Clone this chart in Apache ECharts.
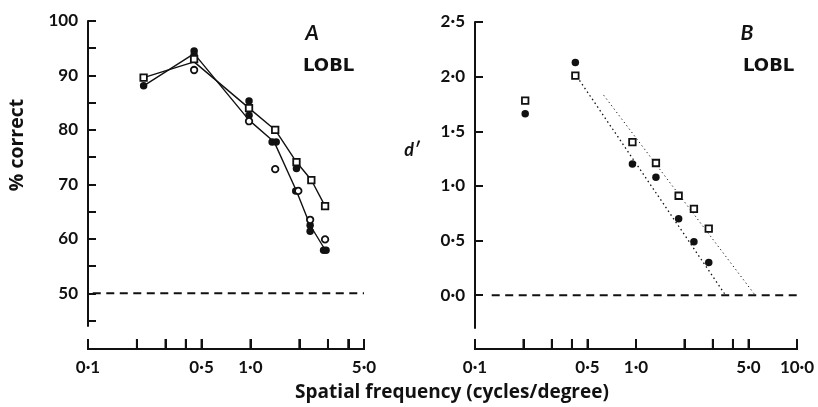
<!DOCTYPE html>
<html>
<head>
<meta charset="utf-8">
<script src="https://cdn.jsdelivr.net/npm/echarts@6/dist/echarts.min.js"></script>
<style>
  html, body { margin: 0; padding: 0; background: #fff; }
  #chart { width: 818px; height: 407px; }
</style>
</head>
<body>
<div id="chart"></div>
<script>
// ---------- Panel A: % correct vs spatial frequency ----------
const filledA = [[0.22, 88.1], [0.45, 94.5], [0.45, 93.7], [0.98, 85.3], [0.98, 82.7],
  [1.36, 77.8], [1.44, 77.8], [1.92, 72.9], [1.90, 68.8], [2.33, 62.5], [2.33, 61.4],
  [2.82, 57.9], [2.92, 57.9]];
const squaresA = [[0.22, 89.6], [0.45, 93.0], [0.98, 84.0], [1.42, 80.0], [1.92, 74.1], [2.37, 70.8], [2.88, 66.0]];
const circlesA = [[0.45, 91.0], [0.98, 81.6], [1.42, 72.8], [1.97, 68.8], [2.33, 63.5], [2.88, 59.9]];
const lineUpperA = [[0.22, 89.6], [0.45, 92.5], [0.98, 84.0], [1.42, 80.0], [1.92, 74.1], [2.37, 70.8], [2.88, 66.0]];
const lineLowerA = [[0.22, 88.1], [0.45, 94.0], [0.98, 81.8], [1.40, 77.8], [1.92, 68.8], [2.33, 62.5], [2.88, 58.0]];
const chanceA = [[0.107, 50], [5, 50]];

// ---------- Panel B: d' vs spatial frequency ----------
const filledB = [[0.205, 1.66], [0.42, 2.13], [0.95, 1.20], [1.33, 1.08], [1.84, 0.70], [2.29, 0.49], [2.83, 0.30]];
const squaresB = [[0.205, 1.78], [0.42, 2.01], [0.95, 1.40], [1.33, 1.21], [1.84, 0.91], [2.29, 0.79], [2.83, 0.61]];
const fitFilledB = [[0.43, 2.0], [3.6, 0]];
const fitOpenB = [[0.63, 1.83], [5.5, 0]];
const zeroB = [[0.127, 0], [10, 0]];

// ---------- Ticks & labels ----------
const xTicksA = [0.1, 0.2, 0.3, 0.4, 0.5, 1, 2, 3, 4, 5];
const xLabelsA = [0.1, 0.5, 1, 5];
const xTicksB = [0.1, 0.2, 0.3, 0.4, 0.5, 1, 2, 3, 4, 5, 10];
const xLabelsB = [0.1, 0.5, 1, 5, 10];
const yTicksA = [45, 50, 55, 60, 65, 70, 75, 80, 85, 90, 95, 100];
const yLabelsA = [50, 60, 70, 80, 90, 100];
const yTicksB = [0, 0.5, 1.0, 1.5, 2.0, 2.5];
const yLabelsB = [0, 0.5, 1.0, 1.5, 2.0, 2.5];
const xRangeA = [0.1, 5];
const xRangeB = [0.1, 10];

const INK = '#111';
const FONT = 'Lato';
const dotFmt = v => Number(v).toFixed(1).replace('.', '\u00b7');

function xAxisVisible(gridIndex, range, ticks, labels) {
  return {
    type: 'log', logBase: 10, gridIndex, min: range[0], max: range[1], position: 'bottom',
    axisLine: { show: true, onZero: false, lineStyle: { color: INK, width: 2 } },
    axisTick: { show: true, inside: true, length: 10, customValues: ticks, lineStyle: { color: INK, width: 2 } },
    axisLabel: { show: true, customValues: labels, formatter: dotFmt, margin: 10, color: INK,
      fontFamily: FONT, fontSize: 17, fontWeight: 'bold' },
    splitLine: { show: false }
  };
}
function xAxisData(gridIndex, range) {
  return { type: 'log', logBase: 10, gridIndex, min: range[0], max: range[1], position: 'bottom',
    axisLine: { show: false, onZero: false }, axisTick: { show: false }, axisLabel: { show: false },
    splitLine: { show: false } };
}
function yAxisCfg(gridIndex, min, max, ticks, labels, fmt) {
  return {
    type: 'value', gridIndex, min, max, position: 'left',
    axisLine: { show: true, onZero: false, lineStyle: { color: INK, width: 2 } },
    axisTick: { show: true, inside: true, length: 8, customValues: ticks, lineStyle: { color: INK, width: 2 } },
    axisLabel: { customValues: labels, formatter: fmt, margin: 10, color: INK,
      fontFamily: FONT, fontSize: 17, fontWeight: 'bold' },
    splitLine: { show: false }
  };
}
function yAxisBlank(gridIndex) {
  return { type: 'value', gridIndex, min: 0, max: 1, position: 'left',
    axisLine: { show: false, onZero: false }, axisTick: { show: false }, axisLabel: { show: false },
    splitLine: { show: false } };
}
const filledSym = (data, xi, yi) => ({
  type: 'scatter', xAxisIndex: xi, yAxisIndex: yi, data, symbol: 'circle', symbolSize: 7.5,
  itemStyle: { color: INK, opacity: 1 }, z: 5, silent: true
});
const openSym = (data, xi, yi, shape, size) => ({
  type: 'scatter', xAxisIndex: xi, yAxisIndex: yi, data, symbol: shape, symbolSize: size,
  itemStyle: { color: '#fff', borderColor: INK, borderWidth: 1.8, opacity: 1 }, z: 6, silent: true
});
const plainLine = (data, xi, yi, type, width) => ({
  type: 'line', xAxisIndex: xi, yAxisIndex: yi, data, symbol: 'none', silent: true,
  lineStyle: { color: INK, width, type, opacity: 1 }, z: 3
});

const textGraphics = [
  { type: 'text', x: 452, y: 393, style: { text: 'Spatial frequency (cycles/degree)', fill: INK,
    font: 'bold 19px "Open Sans"', align: 'center', verticalAlign: 'middle' } },
  { type: 'text', x: 17, y: 145, rotation: Math.PI / 2, style: { text: '% correct', fill: INK,
    font: 'bold 19.5px "Open Sans"', align: 'center', verticalAlign: 'middle' } },
  { type: 'text', x: 412, y: 150, style: { text: 'd\u2032', fill: INK,
    font: 'italic bold 18px Lato', align: 'center', verticalAlign: 'middle' } },
  { type: 'text', x: 312, y: 33, style: { text: 'A', fill: INK,
    font: 'italic bold 21px Lato', align: 'center', verticalAlign: 'middle' } },
  { type: 'text', x: 303, y: 66, style: { text: 'LOBL', fill: INK,
    font: 'bold 18px "DejaVu Sans"', align: 'left', verticalAlign: 'middle' } },
  { type: 'text', x: 747, y: 33, style: { text: 'B', fill: INK,
    font: 'italic bold 21px Lato', align: 'center', verticalAlign: 'middle' } },
  { type: 'text', x: 743, y: 66, style: { text: 'LOBL', fill: INK,
    font: 'bold 18px "DejaVu Sans"', align: 'left', verticalAlign: 'middle' } }
];

const chart = echarts.init(document.getElementById('chart'), null, { renderer: 'canvas' });
chart.setOption({
  animation: false,
  backgroundColor: '#fff',
  grid: [
    { left: 88, top: 21, width: 276, height: 305 },   // 0: panel A plot
    { left: 475, top: 22, width: 322, height: 306 },  // 1: panel B plot
    { left: 88, top: 21, width: 276, height: 328 },   // 2: panel A frequency axis
    { left: 475, top: 22, width: 322, height: 327 }   // 3: panel B frequency axis
  ],
  xAxis: [
    xAxisData(0, xRangeA),
    xAxisData(1, xRangeB),
    xAxisVisible(2, xRangeA, xTicksA, xLabelsA),
    xAxisVisible(3, xRangeB, xTicksB, xLabelsB)
  ],
  yAxis: [
    yAxisCfg(0, 44, 100, yTicksA, yLabelsA, v => String(Math.round(v))),
    yAxisCfg(1, -0.3, 2.5, yTicksB, yLabelsB, dotFmt),
    yAxisBlank(2),
    yAxisBlank(3)
  ],
  series: [
    plainLine(chanceA, 0, 0, [8, 5.5], 2),
    plainLine(lineUpperA, 0, 0, 'solid', 1.4),
    plainLine(lineLowerA, 0, 0, 'solid', 1.4),
    filledSym(filledA, 0, 0),
    openSym(squaresA, 0, 0, 'rect', 6.5),
    openSym(circlesA, 0, 0, 'circle', 6.5),
    plainLine(zeroB, 1, 1, [8, 5.5], 2),
    plainLine(fitFilledB, 1, 1, [1.5, 3], 1.3),
    plainLine(fitOpenB, 1, 1, [1.2, 3], 1),
    filledSym(filledB, 1, 1),
    openSym(squaresB, 1, 1, 'rect', 6.5)
  ],
  graphic: { elements: textGraphics }
});

// Frequency-axis line and tick marks, positioned through the library's log scale
function axisShapes(xIndex, yIndex, range, ticks) {
  const y = chart.convertToPixel({ yAxisIndex: yIndex }, 0);
  const x0 = chart.convertToPixel({ xAxisIndex: xIndex }, range[0]);
  const x1 = chart.convertToPixel({ xAxisIndex: xIndex }, range[1]);
  const shapes = [{ type: 'line', z: 100, shape: { x1: x0 - 1, y1: y, x2: x1 + 1, y2: y },
    style: { stroke: INK, lineWidth: 2 } }];
  ticks.forEach(v => {
    const x = chart.convertToPixel({ xAxisIndex: xIndex }, v);
    shapes.push({ type: 'line', z: 100, shape: { x1: x, y1: y, x2: x, y2: y - 10 },
      style: { stroke: INK, lineWidth: 2 } });
  });
  return shapes;
}
chart.setOption({
  graphic: { elements: textGraphics.concat(
    axisShapes(2, 2, xRangeA, xTicksA),
    axisShapes(3, 3, xRangeB, xTicksB)
  ) }
});
</script>
</body>
</html>
